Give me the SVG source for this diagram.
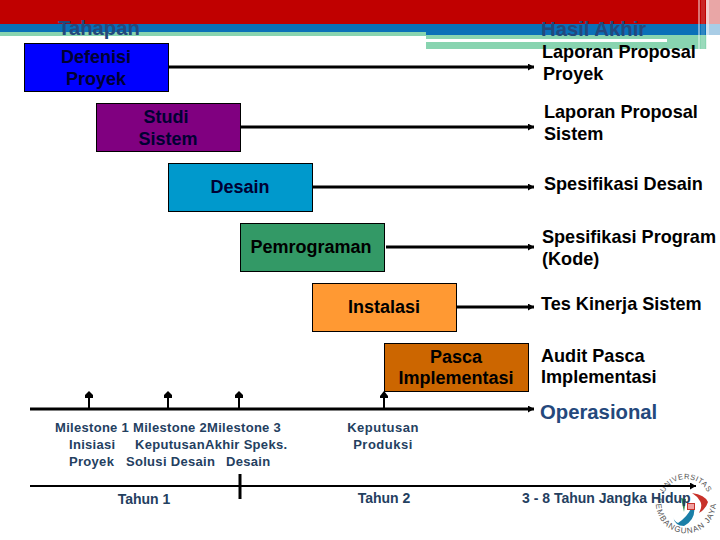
<svg xmlns="http://www.w3.org/2000/svg" width="720" height="540" viewBox="0 0 720 540">
<defs>
<marker id="ah" markerUnits="userSpaceOnUse" markerWidth="8" markerHeight="8" refX="6" refY="3.500" orient="auto"><path d="M0 0L6 3.500L0 7Z" fill="#000"/></marker>
<path id="ring-top" d="M664.250 492.860A24 24 0 0 1 709.900 500.900"/>
<path id="ring-bottom" d="M656.500 497.800A30 30 0 1 0 715.500 497.800"/>
</defs>
<style>
text{font-family:"Liberation Sans",Arial,sans-serif;font-weight:bold}
.n{font-size:18px;fill:#000033;text-anchor:middle}
.k{font-size:18.100px;fill:#000}
.h{font-size:20.300px;fill:#24487c}
.m{font-size:13px;fill:#24405f;letter-spacing:.3px}
.y{font-size:14px;fill:#24405f}
.r{font-size:7.500px;font-weight:normal;fill:#555;letter-spacing:.4px}
.s{font-size:8px;font-weight:normal;fill:#555;letter-spacing:1px}
.b{stroke:#000;stroke-width:1}
.a{stroke:#000;stroke-width:3;fill:none;marker-end:url(#ah)}
.t{stroke:#000;stroke-width:3;fill:none}
</style>
<g id="banner">
<rect x="0" y="0" width="720" height="24" fill="#c00000"/>
<rect x="0" y="24" width="720" height="11" fill="#0a70b8"/>
<rect x="0" y="32" width="426" height="4" fill="#88d4b0"/>
<rect x="426" y="35" width="281" height="14" fill="#88d4b0"/>
<rect x="426" y="39" width="241" height="3" fill="#fff"/>
<rect x="698" y="0" width="2" height="49" fill="#fff" opacity=".45"/>
<rect x="701" y="0" width="4" height="49" fill="#fff" opacity=".15"/>
<rect x="706" y="0" width="3" height="49" fill="#fff" opacity=".8"/>
<rect x="709" y="0" width="11" height="49" fill="#fff" opacity=".65"/>
</g>
<g id="logo">
<path d="M693 503Q690 515 678 523Q674 521 673 517Q675 526 684 526Q698 518 693 503Z" fill="#1a7fa8"/>
<path d="M692 493Q705 495 708 502Q706 509 699 513Q703 505 700 501Q697 496 692 493Z" fill="#c8322a"/>
<path d="M681 498L684 512L686 499Z" fill="#2f8f4f"/>
<rect x="687.500" y="503.500" width="7" height="6" fill="#f0a0a0" stroke="#c8322a"/>
<text class="r"><textPath href="#ring-top">UNIVERSITAS</textPath></text>
<text class="s"><textPath href="#ring-bottom">PEMBANGUNAN JAYA</textPath></text>
</g>
<g id="connectors">
<path class="a" d="M169 67H534"/>
<path class="a" d="M241 127H534"/>
<path class="a" d="M313 187H534"/>
<path class="a" d="M386 247H534"/>
<path class="a" d="M457 307H534"/>
<path class="a" d="M30 409H534"/>
<path class="t" style="stroke-width:2" d="M89 409V393"/><path d="M85 395L89 391L93 395V398H85Z"/>
<path class="t" style="stroke-width:2" d="M168 409V393"/><path d="M164 395L168 391L172 395V398H164Z"/>
<path class="t" style="stroke-width:2" d="M239 409V393"/><path d="M235 395L239 391L243 395V398H235Z"/>
<path class="t" style="stroke-width:2" d="M384 409V393"/><path d="M380 396L384 391L388 396V398H380Z"/>
<path class="a" style="stroke-width:2" d="M30 486H696"/>
<path class="t" d="M240 474V499"/>
</g>
<g id="tahapan"><text class="h" x="58" y="35">Tahapan</text></g>
<g id="hasil"><text class="h" x="541" y="36">Hasil Akhir</text></g>
<g id="defenisi"><rect class="b" x="24.500" y="43.500" width="144" height="48" fill="#0000ff"/><text class="n" x="96" y="63">Defenisi</text><text class="n" x="96" y="85">Proyek</text></g>
<g id="studi"><rect class="b" x="96.500" y="103.500" width="144" height="48" fill="#800080"/><text class="n" x="166" y="123">Studi</text><text class="n" x="168" y="145">Sistem</text></g>
<g id="desain"><rect class="b" x="168.500" y="163.500" width="144" height="48" fill="#0099cc"/><text class="n" x="240" y="193">Desain</text></g>
<g id="pemrograman"><rect class="b" x="240.500" y="223.500" width="144" height="48" fill="#339966"/><text class="n" x="311" y="253" style="fill:#000">Pemrograman</text></g>
<g id="instalasi"><rect class="b" x="312.500" y="283.500" width="144" height="48" fill="#ff9933"/><text class="n" x="384" y="313" style="fill:#000">Instalasi</text></g>
<g id="pasca"><rect class="b" x="384.500" y="343.500" width="144" height="48" fill="#cc6600"/><text class="n" x="456" y="363" style="fill:#000">Pasca</text><text class="n" x="456" y="384" style="fill:#000">Implementasi</text></g>
<g id="hasil-1"><text class="k" x="542" y="58">Laporan Proposal</text><text class="k" x="543" y="80">Proyek</text></g>
<g id="hasil-2"><text class="k" x="544" y="118">Laporan Proposal</text><text class="k" x="544" y="140">Sistem</text></g>
<g id="hasil-3"><text class="k" x="544" y="190">Spesifikasi Desain</text></g>
<g id="hasil-4"><text class="k" x="542" y="243">Spesifikasi Program</text><text class="k" x="542" y="265">(Kode)</text></g>
<g id="hasil-5"><text class="k" x="541" y="310">Tes Kinerja Sistem</text></g>
<g id="hasil-6"><text class="k" x="541" y="362">Audit Pasca</text><text class="k" x="541" y="383">Implementasi</text></g>
<g id="operasional"><text class="h" x="540" y="419">Operasional</text></g>
<g id="milestone-1"><text class="m" x="55" y="432">Milestone 1</text><text class="m" x="69" y="449">Inisiasi</text><text class="m" x="69" y="466">Proyek</text></g>
<g id="milestone-2"><text class="m" x="133" y="432">Milestone 2</text><text class="m" x="135" y="449">Keputusan</text><text class="m" x="126" y="466">Solusi Desain</text></g>
<g id="milestone-3"><text class="m" x="207" y="432">Milestone 3</text><text class="m" x="205" y="449">Akhir Speks.</text><text class="m" x="226" y="466">Desain</text></g>
<g id="keputusan"><text class="m" x="383" y="432" text-anchor="middle" style="letter-spacing:.5px">Keputusan</text><text class="m" x="383" y="449" text-anchor="middle" style="letter-spacing:.5px">Produksi</text></g>
<g id="tahun-1"><text class="y" x="144" y="504" text-anchor="middle">Tahun 1</text></g>
<g id="tahun-2"><text class="y" x="384" y="503" text-anchor="middle">Tahun 2</text></g>
<g id="tahun-3"><text class="y" x="522" y="503">3 - 8 Tahun Jangka Hidup</text></g>
</svg>
